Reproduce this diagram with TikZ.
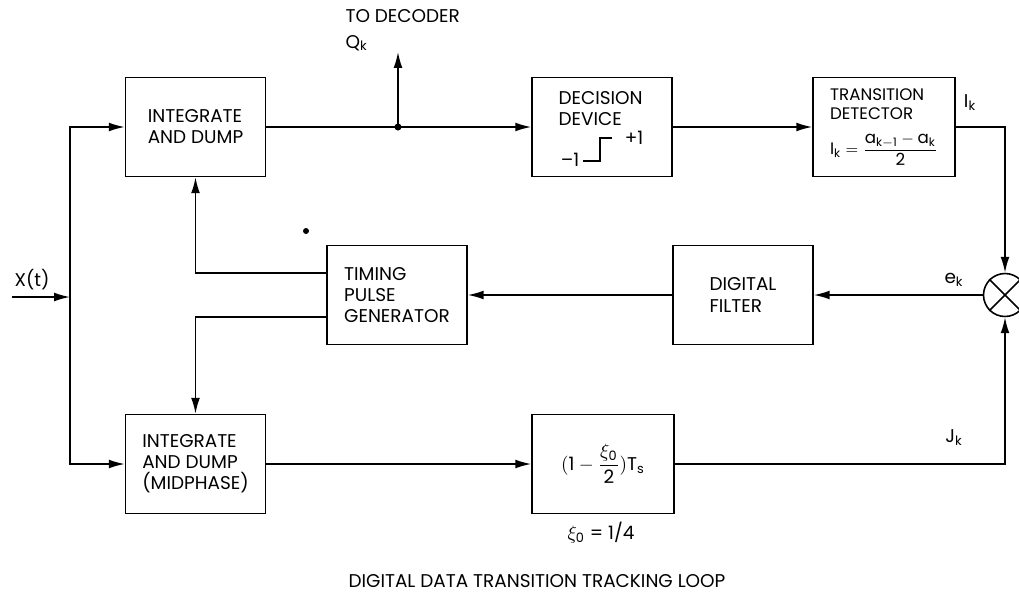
\documentclass[tikz,border=0pt]{standalone}
\usepackage{amsmath}
\usepackage{fontspec}
\setmainfont{Poppins}
\usetikzlibrary{positioning,shapes,arrows.meta,calc}

\begin{document}
\begin{tikzpicture}[x=0.02cm, y=-0.02cm,
    font=\fontsize{10.5}{12}\selectfont,
    line width=0.9pt,
    >={Latex[length=9pt,width=5pt]},
    blk/.style={draw, rectangle, minimum width=2.8cm, minimum height=1.98cm, align=left},
    lbl/.style={inner sep=1pt}]
    \useasboundingbox (0,0) rectangle (1019,593);

    % Top row
    \node[blk] (intA) at (195.5,127) {INTEGRATE\\AND DUMP};
    \node[blk] (dec) at (602,127) {};
    \node[lbl, anchor=north west, align=left] (dectxt) at (556,89) {DECISION\\DEVICE};
    \node[blk, minimum width=2.84cm, inner xsep=2pt, font=\fontsize{9.5}{11}\selectfont] (trans) at (884,127)
        {TRANSITION\\DETECTOR\\[7pt]
        $\text{I}_{\text{k}} = \dfrac{\text{a}_{\text{k}-\text{1}}-\text{a}_{\text{k}}}{\text{2}}$};

    % Decision characteristic
    \node[lbl] (mone) at (570,160) {--1};
    \node[lbl] (pone) at (634,138) {+1};
    \coordinate (stepA) at (583,161);
    \draw (stepA) -- ++(17,0) -- ++(0,-23) -- ++(12,0);

    % Middle row
    \node[blk] (tim) at (397,295) {TIMING\\PULSE\\GENERATOR};
    \node[blk] (filt) at (743,295) {DIGITAL\\FILTER};
    \node[draw, circle, minimum size=0.86cm, inner sep=0pt] (mult) at (1005,295) {};
    \draw (mult.north west) -- (mult.south east);
    \draw (mult.north east) -- (mult.south west);

    % Bottom row
    \node[blk] (intB) at (195.5,464) {INTEGRATE\\AND DUMP\\(MIDPHASE)};
    \node[blk, minimum width=2.84cm] (delay) at (603,464)
        {$(\text{1} - \dfrac{\xi_{\text{0}}}{\text{2}})\text{T}_{\text{s}}$};
    \node[lbl] (xi) at (601,533) {$\xi_{\text{0}}$ = 1/4};

    % Input
    \coordinate (xin) at (12,297);
    \coordinate (split) at (70,297);
    \node[lbl, anchor=south west] (xlbl) at (12,292) {X(t)};

    % Connections
    \draw[->] (xin) -- (split);
    \draw[->] (split) |- (intA.west);
    \draw[->] (split) |- (intB.west);
    \draw[->] (intA) -- (dec);
    \coordinate (junc) at (398,127);
    \coordinate (qout) at (398,52);
    \fill (junc) circle (3.5);
    \draw[->] (junc) -- (qout);
    \draw[->] (dec) -- (trans);
    \draw[->] (trans.east) -| (mult.north);
    \draw[->] (mult) -- (filt);
    \draw[->] (filt) -- (tim);
    \draw[->] ([yshift=0.44cm]tim.west) -| (intA.south);
    \draw[->] ([yshift=-0.44cm]tim.west) -| (intB.north);
    \draw[->] (intB) -- (delay);
    \draw[->] (delay.east) -| (mult.south);

    % Labels
    \node[lbl, anchor=south west] (dectop) at (343,25) {TO DECODER};
    \node[lbl, anchor=west] (qk) at (343,43) {Q\textsubscript{k}};
    \node[lbl] (ik) at (970,103) {I\textsubscript{k}};
    \node[lbl] (ek) at (954,280) {e\textsubscript{k}};
    \node[lbl] (jk) at (954,438) {J\textsubscript{k}};
    \fill (306,231) circle (3);

    % Caption
    \node[lbl] (title) at (537,581) {DIGITAL DATA TRANSITION TRACKING LOOP};
\end{tikzpicture}
\end{document}
